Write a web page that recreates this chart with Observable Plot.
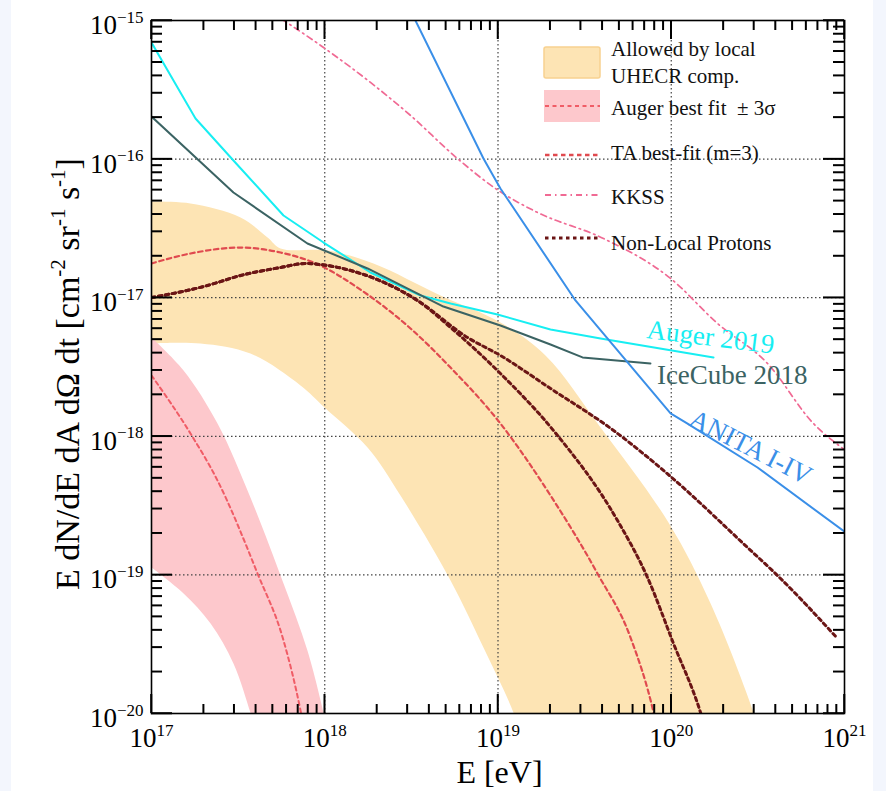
<!DOCTYPE html>
<html><head><meta charset="utf-8">
<script src="https://cdn.jsdelivr.net/npm/d3@7"></script>
<script src="https://cdn.jsdelivr.net/npm/@observablehq/plot@0.6"></script>
<style>
html,body{margin:0;padding:0;}
body{width:886px;height:791px;overflow:hidden;background:#fff;position:relative;}
#chart{position:absolute;left:0;top:0;}
#chart svg{display:block;}
.strip{position:absolute;top:0;height:791px;background:#f3f6fd;}
</style></head><body>
<div class="strip" style="left:0;width:11px"></div><div class="strip" style="left:873px;width:13px"></div>
<div id="chart"></div>
<script>
// ---- data (log10 E [eV], log10 flux) ----
const allowedUpE = [17.000, 17.225, 17.514, 17.670, 17.745, 18.016, 18.281, 18.668, 19.014, 19.274, 19.592, 19.984, 20.227, 20.475, 20.504];
const allowedUpF = [-16.306, -16.320, -16.421, -16.566, -16.645, -16.659, -16.753, -16.984, -17.179, -17.417, -17.936, -18.622, -19.206, -19.993, -20.123];
const allowedLoE = [17.000, 17.283, 17.571, 17.860, 17.999, 18.247, 18.437, 18.726, 18.916, 19.089, 19.118];
const allowedLoF = [-17.330, -17.330, -17.403, -17.633, -17.792, -18.081, -18.427, -19.040, -19.524, -19.993, -20.123];

const augerUpE = [17.000, 17.185, 17.381, 17.571, 17.762, 17.900, 17.993, 18.010];
const augerUpF = [-17.287, -17.525, -17.908, -18.442, -19.062, -19.545, -19.993, -20.087];
const augerLoE = [17.000, 17.185, 17.341, 17.473, 17.571, 17.595];
const augerLoF = [-18.947, -19.134, -19.351, -19.639, -19.993, -20.087];
const augerFitE = [17.000, 17.225, 17.381, 17.612, 17.762, 17.860, 17.877];
const augerFitF = [-17.561, -17.980, -18.319, -18.990, -19.473, -19.978, -20.087];

const taE = [17.000, 17.225, 17.514, 17.745, 17.935, 18.247, 18.495, 18.726, 19.014, 19.303, 19.574, 19.765, 19.898, 19.915];
const taF = [-16.753, -16.681, -16.638, -16.674, -16.746, -16.977, -17.222, -17.504, -17.908, -18.427, -18.990, -19.452, -19.993, -20.087];

const nlpUpE = [17.000, 17.323, 17.514, 17.745, 17.889, 18.016, 18.206, 18.437, 18.535, 18.824, 19.014, 19.303, 19.667, 19.996, 20.440, 20.613, 20.960];
const nlpUpF = [-16.999, -16.912, -16.840, -16.782, -16.753, -16.768, -16.825, -16.948, -17.020, -17.287, -17.417, -17.655, -17.958, -18.290, -18.802, -19.004, -19.459];
const nlpLoE = [17.000, 17.323, 17.514, 17.745, 17.889, 18.016, 18.206, 18.437, 18.535, 18.726, 19.014, 19.320, 19.690, 19.863, 20.013, 20.169, 20.192];
const nlpLoF = [-16.999, -16.912, -16.840, -16.782, -16.753, -16.768, -16.825, -16.948, -17.020, -17.215, -17.547, -17.958, -18.608, -19.019, -19.495, -19.993, -20.087];

const augerLimE = [17.000, 17.254, 17.473, 17.762, 17.993, 18.264, 18.553, 18.726, 18.997, 19.303, 19.592, 20.244];
const augerLimF = [-15.159, -15.707, -16.010, -16.407, -16.602, -16.818, -16.984, -17.042, -17.121, -17.229, -17.294, -17.431];

const iceE = [17.000, 17.473, 17.900, 18.247, 18.685, 19.014, 19.303, 19.488, 19.880];
const iceF = [-15.693, -16.241, -16.609, -16.789, -17.064, -17.201, -17.338, -17.431, -17.475];

const anitaE = [18.495, 18.916, 19.014, 19.447, 19.996, 20.094, 20.498, 21.006];
const anitaF = [-14.928, -15.996, -16.212, -17.020, -17.835, -17.908, -18.225, -18.694];

const kkssE = [17.675, 17.993, 18.264, 18.495, 18.766, 19.003, 19.228, 19.609, 19.996, 20.267, 20.556, 20.821, 21.006];
const kkssF = [-14.928, -15.195, -15.447, -15.685, -15.996, -16.227, -16.385, -16.573, -16.861, -17.186, -17.475, -17.908, -18.102];

const curveLabels = [
  {text: "Auger 2019", logE: 20.227, logF: -17.285, rotate: 7, color: "#17eef2"},
  {text: "IceCube 2018", logE: 20.352, logF: -17.561, rotate: 0, color: "#3b6363"},
  {text: "ANITA I-IV", logE: 20.458, logF: -18.079, rotate: 27, color: "#3a8fe8"}
];

const majorX = [1e17, 1e18, 1e19, 1e20, 1e21];
const majorY = [1e-20, 1e-19, 1e-18, 1e-17, 1e-16, 1e-15];
const gridX = [1e18, 1e19, 1e20];
const gridY = [1e-19, 1e-18, 1e-17, 1e-16];
const minorX = [], minorY = [];
for (let d = 17; d < 21; d++) for (let m = 2; m < 10; m++) minorX.push(m * 10 ** d);
for (let d = -20; d < -15; d++) for (let m = 2; m < 10; m++) minorY.push(m * 10 ** d);

const legendItems = ["Allowed by local", "UHECR comp.", "Auger best fit\u00a0 \u00b1 3\u03c3", "TA best-fit (m=3)", "KKSS", "Non-Local Protons"];

// ---- helpers ----
const FONT = "'Liberation Serif','Times New Roman',Times,serif";
const pts = (le, lf) => le.map((e, i) => ({E: 10 ** e, F: 10 ** lf[i]}));
const poly = (ue, uf, le, lf) => [...pts(ue, uf), ...pts(le, lf).reverse()];

const W = 886, H = 791, mL = 151, mR = 42, mT = 20, mB = 78;
const FW = W - mL - mR, FH = H - mT - mB;
const expFmt = d => String(Math.round(Math.log10(d)));
const tickStyle = {stroke: "#000", strokeWidth: 1.5};

const plot = Plot.plot({
  width: W, height: H,
  marginLeft: mL, marginRight: mR, marginTop: mT, marginBottom: mB,
  x: {type: "log", domain: [1e17, 1e21]},
  y: {type: "log", domain: [1e-20, 1e-15]},
  style: {background: "transparent", fontFamily: FONT, color: "black"},
  marks: [
    Plot.line(poly(allowedUpE, allowedUpF, allowedLoE, allowedLoF), {x: "E", y: "F", fill: "#fde4b4", stroke: "none", curve: "catmull-rom", clip: true}),
    Plot.line(poly(augerUpE, augerUpF, augerLoE, augerLoF), {x: "E", y: "F", fill: "#fdc8cc", stroke: "none", curve: "catmull-rom", clip: true}),
    Plot.ruleX(gridX, {x: d => d, stroke: "#444", strokeWidth: 1.2, strokeDasharray: "1.5,2.5"}),
    Plot.ruleY(gridY, {y: d => d, stroke: "#444", strokeWidth: 1.2, strokeDasharray: "1.5,2.5"}),
    Plot.line(pts(augerFitE, augerFitF), {x: "E", y: "F", stroke: "#f05c66", strokeWidth: 2, strokeDasharray: "4,3.5", curve: "monotone-x", clip: true}),
    Plot.line(pts(kkssE, kkssF), {x: "E", y: "F", stroke: "#f06a94", strokeWidth: 1.7, strokeDasharray: "6,4,1.5,4", curve: "monotone-x", clip: true}),
    Plot.line(pts(taE, taF), {x: "E", y: "F", stroke: "#e04a4f", strokeWidth: 2.2, strokeDasharray: "4.5,3.5", curve: "monotone-x", clip: true}),
    Plot.line(pts(nlpUpE, nlpUpF), {x: "E", y: "F", stroke: "#6b1515", strokeWidth: 3, strokeDasharray: "3.5,3.5", curve: "monotone-x", clip: true}),
    Plot.line(pts(nlpLoE, nlpLoF), {x: "E", y: "F", stroke: "#6b1515", strokeWidth: 3, strokeDasharray: "3.5,3.5", curve: "monotone-x", clip: true}),
    Plot.line(pts(augerLimE, augerLimF), {x: "E", y: "F", stroke: "#17eef2", strokeWidth: 2, clip: true}),
    Plot.line(pts(iceE, iceF), {x: "E", y: "F", stroke: "#3b6363", strokeWidth: 2, clip: true}),
    Plot.line(pts(anitaE, anitaF), {x: "E", y: "F", stroke: "#3a8fe8", strokeWidth: 2, clip: true}),
    ...curveLabels.map(l => Plot.text([l], {x: d => 10 ** d.logE, y: d => 10 ** d.logF, text: "text", rotate: l.rotate, fill: l.color, fontSize: 27, fontFamily: FONT})),
    Plot.frame({stroke: "#000", strokeWidth: 1.6}),
    // inside ticks on all four sides
    Plot.tickY(majorY, {y: d => d, insetRight: FW - 21, ...tickStyle}),
    Plot.tickY(minorY, {y: d => d, insetRight: FW - 11, ...tickStyle}),
    Plot.tickY(majorY, {y: d => d, insetLeft: FW - 21, ...tickStyle}),
    Plot.tickY(minorY, {y: d => d, insetLeft: FW - 11, ...tickStyle}),
    Plot.tickX(majorX, {x: d => d, insetTop: FH - 19, ...tickStyle}),
    Plot.tickX(minorX, {x: d => d, insetTop: FH - 9, ...tickStyle}),
    Plot.tickX(majorX, {x: d => d, insetBottom: FH - 19, ...tickStyle}),
    Plot.tickX(minorX, {x: d => d, insetBottom: FH - 10, ...tickStyle}),
    Plot.axisX({ticks: majorX, tickSize: 0, tickPadding: 14, tickFormat: expFmt, fontSize: 27, label: null, anchor: "bottom"}),
    Plot.axisY({ticks: majorY, tickSize: 0, tickPadding: 8, tickFormat: expFmt, fontSize: 27, label: null, anchor: "left"})
  ]
});

document.getElementById("chart").appendChild(plot);

// superscript tick labels: 10^n
const NS = "http://www.w3.org/2000/svg";
function supLabel(t, baseline, expSize, rise) {
  const exp = t.textContent.replace("-", "\u2212");
  t.textContent = "";
  t.setAttribute("y", baseline);
  const a = document.createElementNS(NS, "tspan"); a.textContent = "10";
  const b = document.createElementNS(NS, "tspan"); b.textContent = exp;
  b.setAttribute("font-size", expSize); b.setAttribute("dy", -rise);
  t.append(a, b);
}
plot.querySelectorAll('g[aria-label="x-axis tick label"] text').forEach(t => supLabel(t, 19, 17, 11));
plot.querySelectorAll('g[aria-label="y-axis tick label"] text').forEach(t => supLabel(t, 13.5, 17, 11.5));

const svg = d3.select(plot);

// axis titles
const yt = svg.append("text").attr("transform", "translate(79,374) rotate(-90)")
  .attr("text-anchor", "middle").attr("font-size", 34).attr("font-family", FONT).attr("fill", "#000");
yt.append("tspan").text("E dN/dE dA d\u03a9 dt [cm");
yt.append("tspan").attr("font-size", 21).attr("dy", -14).text("-2");
yt.append("tspan").attr("dy", 14).text(" sr");
yt.append("tspan").attr("font-size", 21).attr("dy", -14).text("-1");
yt.append("tspan").attr("dy", 14).text(" s");
yt.append("tspan").attr("font-size", 21).attr("dy", -14).text("-1");
yt.append("tspan").attr("dy", 14).text("]");
svg.append("text").attr("x", 499.5).attr("y", 783).attr("text-anchor", "middle")
  .attr("font-size", 32).attr("font-family", FONT).attr("fill", "#000").text("E [eV]");

// legend
const lg = svg.append("g").attr("font-family", FONT).attr("font-size", 21).attr("fill", "#111").attr("text-anchor", "start");
lg.append("rect").attr("x", 544).attr("y", 47).attr("width", 56).attr("height", 31).attr("rx", 2)
  .attr("fill", "#fde4b4").attr("stroke", "#f8d190").attr("stroke-width", 1.5);
lg.append("rect").attr("x", 544).attr("y", 90).attr("width", 56).attr("height", 32).attr("fill", "#fdc8cc");
const lline = (y, stroke, w, dash) => lg.append("line").attr("x1", 545).attr("x2", 600).attr("y1", y).attr("y2", y)
  .attr("stroke", stroke).attr("stroke-width", w).attr("stroke-dasharray", dash);
lline(106, "#f05c66", 2, "4,3.5");
lline(155, "#e04a4f", 2.5, "4.5,3.5");
lline(195, "#f06a94", 1.8, "6,4,1.5,4");
lline(238, "#6b1515", 3, "3.5,3.5");
const baselines = [56, 83, 115, 160, 204, 250];
legendItems.forEach((s, i) => lg.append("text").attr("x", 611).attr("y", baselines[i]).text(s));

// extra pass of the inside ticks on top of everything, positioned with Plot's own scales
const sx = plot.scale("x"), sy = plot.scale("y");
const xl = mL, xr = W - mR, yt0 = mT, yb = H - mB;
const tg = svg.append("g").attr("stroke", "#000").attr("fill", "none");
const seg = (a, b, c, d, w) => tg.append("line").attr("x1", a).attr("y1", b).attr("x2", c).attr("y2", d).attr("stroke-width", w);
majorY.forEach(v => { const y = sy.apply(v); seg(xl, y, xl + 21, y, 1.5); seg(xr, y, xr - 21, y, 1.5); });
minorY.forEach(v => { const y = sy.apply(v); seg(xl, y, xl + 11, y, 1.4); seg(xr, y, xr - 11, y, 1.4); });
majorX.forEach(v => { const x = sx.apply(v); seg(x, yb, x, yb - 19, 1.5); seg(x, yt0, x, yt0 + 19, 1.5); });
minorX.forEach(v => { const x = sx.apply(v); seg(x, yb, x, yb - 9, 1.4); seg(x, yt0, x, yt0 + 10, 1.4); });
</script></body></html>
